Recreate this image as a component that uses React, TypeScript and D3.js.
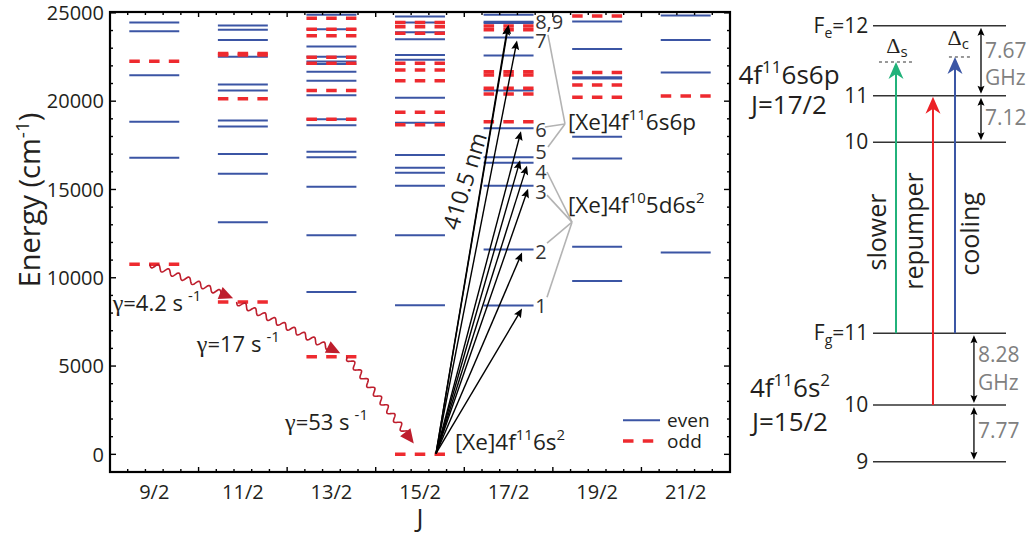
import React from 'react';
import * as d3 from 'd3';

// ---------- data ----------
const J_VALUES = [4.5, 5.5, 6.5, 7.5, 8.5, 9.5, 10.5];
const J_LABELS = ['9/2', '11/2', '13/2', '15/2', '17/2', '19/2', '21/2'];

const EVEN_9_2 = [24450, 23960, 21470, 18840, 16800];
const EVEN_11_2 = [24280, 24050, 23470, 22520, 20940, 20600, 18900, 18570, 17010, 15890, 13150];
const EVEN_13_2 = [24890, 24070, 23090, 22520, 22240, 22110, 21670, 21150, 20330, 18970, 18630, 17140, 16820, 15150, 12410, 9200];
const EVEN_15_2 = [24790, 24450, 23900, 23510, 22620, 22340, 20200, 18780, 16950, 16230, 15950, 15210, 12410, 8450];
const EVEN_17_2 = [24890, 24500, 24420, 23600, 22580, 20600, 18460, 16820, 16520, 15210, 11600, 8430];
const EVEN_19_2 = [24510, 22960, 21360, 21280, 17990, 16760, 11750, 9820];
const EVEN_21_2 = [24850, 23470, 21620, 11430];

const ODD_9_2 = [22260, 10760];
const ODD_11_2 = [22700, 22620, 20140, 8630];
const ODD_13_2 = [24700, 24070, 23710, 22490, 22150, 20600, 18970, 5520];
const ODD_15_2 = [24450, 24220, 23850, 22150, 21770, 21160, 19370, 18670, 0];
const ODD_17_2 = [24260, 24040, 21670, 21480, 20730, 20410, 18840];
const ODD_19_2 = [24830, 21620, 20920, 20220];
const ODD_21_2 = [20290];

const EVEN_LEVELS = [EVEN_9_2, EVEN_11_2, EVEN_13_2, EVEN_15_2, EVEN_17_2, EVEN_19_2, EVEN_21_2];
const ODD_LEVELS = [ODD_9_2, ODD_11_2, ODD_13_2, ODD_15_2, ODD_17_2, ODD_19_2, ODD_21_2];

const ENERGY_TICKS = [0, 5000, 10000, 15000, 20000, 25000];

// 410.5 nm transitions from the ground state (J=15/2) to J=17/2 levels
const GROUND_ORIGIN = [7.681, 50];
const TRANSITION_ENERGY = [8430, 11600, 15210, 16520, 16820, 18460, 23600, 24420, 24500];
const TRANSITION_TIP_J = [8.652, 8.652, 8.72, 8.708, 8.63, 8.64, 8.595, 8.49, 8.5];
const TRANSITION_LABELS = ['1', '2', '3', '4', '5', '6', '7', '8,9'];
const TRANSITION_LABEL_E = [8390, 11450, 14850, 15990, 17120, 18370, 23430, 24470];
const TRANSITION_LABEL_J = 8.8;

// grey brackets to configuration names
const SP_FROM = [[8.945, 23750], [8.91, 18540], [8.945, 17400]];
const SP_TO = [9.137, 18710];
const D_FROM = [[8.934, 15990], [8.934, 14680], [8.934, 11960], [8.934, 8900]];
const D_TO = [9.216, 13150];

// decays (wavy arrows)
const DECAY_START = [[4.45, 10770], [5.43, 8630], [6.68, 5520]];
const DECAY_END = [[5.39, 8840], [6.6, 5730], [7.43, 620]];
const GAMMA_VALUES = ['4.2', '17', '53'];
const GAMMA_POS = [[4.03, 8100], [4.98, 5820], [5.976, 1400]];

// hyperfine schematic (diagram units 0..100)
const EXC_F = ['12', '11', '10'];
const EXC_POS = [97.0, 81.8, 71.7];
const GND_F = ['11', '10', '9'];
const GND_POS = [30.15, 14.57, 2.24];
const EXC_GAPS = ['7.67', '7.12'];
const GND_GAPS = ['8.28', '7.77'];
const LASERS = ['slower', 'repumper', 'cooling'];
const LASER_X = [17.3, 45.1, 61.65];
const LASER_FROM = [30.15, 14.57, 30.15];
const LASER_TO = [89.13, 81.6, 90.22];
const LASER_COLORS = ['#21b27a', '#ec2227', '#3b56a5'];
const LASER_LABEL_X = [886, 923, 979];
const LASER_LABEL_Y = [232, 231, 234];

const FONT = "'Open Sans', 'Liberation Sans', sans-serif";
const GREEK = "'Liberation Serif', 'DejaVu Serif', serif";
const BLUE = '#3b55a4';
const RED = '#ee2a2f';
const DRED = '#be1e2d';
const INK = '#231f20';

function headPath(x1: number, y1: number, x2: number, y2: number, len: number, hw: number, notch = 0) {
  const dx = x2 - x1, dy = y2 - y1;
  const L = Math.hypot(dx, dy);
  const ux = dx / L, uy = dy / L;
  const nx = -uy, ny = ux;
  const bx = x2 - ux * len, by = y2 - uy * len;
  const mx = x2 - ux * (len - notch), my = y2 - uy * (len - notch);
  return `M${x2},${y2}L${bx + nx * hw},${by + ny * hw}L${mx},${my}L${bx - nx * hw},${by - ny * hw}Z`;
}

function shorten(x1: number, y1: number, x2: number, y2: number, d: number): [number, number] {
  const L = Math.hypot(x2 - x1, y2 - y1);
  return [x2 - ((x2 - x1) / L) * d, y2 - ((y2 - y1) / L) * d];
}

function wavy(x0: number, y0: number, x1: number, y1: number, wl: number, amp: number) {
  const dx = x1 - x0, dy = y1 - y0;
  const L = Math.hypot(dx, dy);
  const ux = dx / L, uy = dy / L, nx = -uy, ny = ux;
  const pts: [number, number][] = [];
  for (let t = 0; t <= L; t += 0.5) {
    const a = amp * Math.sin((2 * Math.PI * t) / wl);
    pts.push([x0 + ux * t + nx * a, y0 + uy * t + ny * a]);
  }
  return d3.line()(pts) as string;
}

export default function App() {
  const W = 1029, H = 537;
  const x = d3.scaleLinear().domain([4, 11]).range([110, 730]);
  const y = d3.scaleLinear().domain([-1000, 25050]).range([472, 12]);
  const hw = 0.282;
  const xs = d3.scaleLinear().domain([0, 100]).range([873, 1006]);
  const ys = d3.scaleLinear().domain([0, 100]).range([472, 12]);

  const xTicks = d3.range(0, 36).map((i) => 4 + i * 0.2);
  const yTicks = d3.range(-1000, 25001, 1000);

  const [ox, oy] = [x(GROUND_ORIGIN[0]), y(GROUND_ORIGIN[1])];

  return (
    <svg width={W} height={H} style={{ position: 'absolute', left: 0, top: 0, background: '#fff' }} fontFamily={FONT}>
      {/* level lines */}
      {EVEN_LEVELS.map((lv, i) =>
        lv.map((e, k) => (
          <line key={`e${i}-${k}`} x1={x(J_VALUES[i] - hw)} x2={x(J_VALUES[i] + hw)} y1={y(e)} y2={y(e)} stroke={BLUE} strokeWidth={2} />
        ))
      )}
      {ODD_LEVELS.map((lv, i) =>
        lv.map((e, k) => (
          <line key={`o${i}-${k}`} x1={x(J_VALUES[i] - hw)} x2={x(J_VALUES[i] + hw)} y1={y(e)} y2={y(e)} stroke={RED} strokeWidth={3.5} strokeDasharray="10.5,9.25" />
        ))
      )}

      {/* frame */}
      <rect x={x(4)} y={y(25050)} width={x(11) - x(4)} height={y(-1000) - y(25050)} fill="none" stroke="#000" strokeWidth={2.2} />
      {xTicks.map((t, i) => {
        const major = Math.abs(t - Math.round(t)) < 1e-6;
        const len = major ? 5 : 3;
        if (t <= 4.001) return null;
        return (
          <g key={`xt${i}`}>
            <line x1={x(t)} x2={x(t)} y1={y(-1000)} y2={y(-1000) - len} stroke="#000" strokeWidth={1.4} />
            <line x1={x(t)} x2={x(t)} y1={y(25050)} y2={y(25050) + len} stroke="#000" strokeWidth={1.4} />
          </g>
        );
      })}
      {yTicks.map((t, i) => {
        const major = t % 5000 === 0;
        const len = major ? 6 : 3;
        return (
          <g key={`yt${i}`}>
            <line x1={x(4)} x2={x(4) + len} y1={y(t)} y2={y(t)} stroke="#000" strokeWidth={1.4} />
            <line x1={x(11)} x2={x(11) - len} y1={y(t)} y2={y(t)} stroke="#000" strokeWidth={1.4} />
          </g>
        );
      })}
      {ENERGY_TICKS.map((t) => (
        <text key={`yl${t}`} x={x(4) - 6} y={y(t)} dy="0.36em" textAnchor="end" fontSize={20} fill={INK}>
          {t}
        </text>
      ))}
      {J_LABELS.map((l, i) => (
        <text key={`xl${i}`} x={x(J_VALUES[i])} y={499} textAnchor="middle" fontSize={20} fill={INK}>
          {l}
        </text>
      ))}
      <text x={(x(4) + x(11)) / 2} y={527} textAnchor="middle" fontSize={26} fill={INK}>J</text>
      <text transform={`translate(40,200) rotate(-90)`} textAnchor="middle" fontSize={29} fill={INK}>
        Energy (cm<tspan dy={-11} fontSize={19}>-1</tspan><tspan dy={11}>)</tspan>
      </text>

      {/* decays */}
      {DECAY_START.map((s, i) => {
        const x0 = x(s[0]), y0 = y(s[1]);
        const x1 = x(DECAY_END[i][0]), y1 = y(DECAY_END[i][1]);
        const [bx, by] = shorten(x0, y0, x1, y1, 10);
        return (
          <g key={`d${i}`}>
            <path d={wavy(x0, y0, bx, by, 11, 2.8)} fill="none" stroke={DRED} strokeWidth={1.6} />
            <path d={headPath(x0, y0, x1, y1, 14, 6.5)} fill={DRED} />
          </g>
        );
      })}
      {GAMMA_VALUES.map((g, i) => (
        <text key={`g${i}`} x={x(GAMMA_POS[i][0])} y={y(GAMMA_POS[i][1])} fontSize={22} fill={INK}>
          <tspan fontFamily={GREEK} fontSize={24}>γ</tspan>={g} s<tspan dx={5} dy={-10} fontSize={15}>-1</tspan>
        </text>
      ))}

      {/* transitions */}
      {TRANSITION_ENERGY.map((e, i) => {
        const tx = x(TRANSITION_TIP_J[i]);
        const ty = y(e) + 3;
        const [bx, by] = shorten(ox, oy, tx, ty, 5);
        return (
          <g key={`t${i}`}>
            <line x1={ox} y1={oy} x2={bx} y2={by} stroke="#000" strokeWidth={1.4} />
            <path d={headPath(ox, oy, tx, ty, 9, 4, 1.5)} fill="#000" />
          </g>
        );
      })}
      {TRANSITION_LABELS.map((l, i) => (
        <text key={`tl${i}`} x={x(TRANSITION_LABEL_J)} y={y(TRANSITION_LABEL_E[i])} dy="0.36em" fontSize={20} fill="#333">
          {l}
        </text>
      ))}
      {SP_FROM.map((p, i) => (
        <line key={`sp${i}`} x1={x(p[0])} y1={y(p[1])} x2={x(SP_TO[0])} y2={y(SP_TO[1])} stroke="#b3b3b3" strokeWidth={1.6} />
      ))}
      {D_FROM.map((p, i) => (
        <line key={`dp${i}`} x1={x(p[0])} y1={y(p[1])} x2={x(D_TO[0])} y2={y(D_TO[1])} stroke="#b3b3b3" strokeWidth={1.6} />
      ))}
      <text x={x(9.17)} y={y(18370)} fontSize={22.5} fill={INK}>
        [Xe]4f<tspan dy={-10} fontSize={15}>11</tspan><tspan dy={10}>6s6p</tspan>
      </text>
      <text x={x(9.17)} y={y(13660)} fontSize={22.5} fill={INK}>
        [Xe]4f<tspan dy={-10} fontSize={15}>10</tspan><tspan dy={10}>5d6s</tspan><tspan dy={-10} fontSize={15}>2</tspan>
      </text>
      <text x={x(7.895)} y={y(230)} fontSize={22.5} fill={INK}>
        [Xe]4f<tspan dy={-10} fontSize={15}>11</tspan><tspan dy={10}>6s</tspan><tspan dy={-10} fontSize={15}>2</tspan>
      </text>
      <text transform={`translate(${x(8.008)},${y(15480)}) rotate(-73)`} textAnchor="middle" dy="0.35em" fontSize={23} fill={INK}>
        410.5 nm
      </text>

      {/* legend */}
      <line x1={x(9.792)} x2={x(10.21)} y1={y(1930)} y2={y(1930)} stroke={BLUE} strokeWidth={2} />
      <text x={x(10.29)} y={y(1930)} dy="0.35em" fontSize={19} fill={INK}>even</text>
      <line x1={x(9.792)} x2={x(10.21)} y1={y(760)} y2={y(760)} stroke={RED} strokeWidth={3.5} strokeDasharray="10.5,9.25" />
      <text x={x(10.29)} y={y(760)} dy="0.35em" fontSize={19} fill={INK}>odd</text>

      {/* hyperfine schematic */}
      {EXC_POS.map((p, i) => (
        <g key={`ex${i}`}>
          <line x1={xs(0)} x2={xs(100)} y1={ys(p)} y2={ys(p)} stroke="#333" strokeWidth={1.5} />
          <text x={xs(-3.5)} y={ys(p) + 7} textAnchor="end" fontSize={21} fill={INK}>
            {i === 0 ? (
              <>
                F<tspan dy={5} fontSize={14}>e</tspan><tspan dy={-5}>={EXC_F[i]}</tspan>
              </>
            ) : (
              EXC_F[i]
            )}
          </text>
        </g>
      ))}
      {GND_POS.map((p, i) => (
        <g key={`gn${i}`}>
          <line x1={xs(0)} x2={xs(100)} y1={ys(p)} y2={ys(p)} stroke="#333" strokeWidth={1.5} />
          <text x={xs(-3.5)} y={ys(p) + 7} textAnchor="end" fontSize={21} fill={INK}>
            {i === 0 ? (
              <>
                F<tspan dy={5} fontSize={14}>g</tspan><tspan dy={-5}>={GND_F[i]}</tspan>
              </>
            ) : (
              GND_F[i]
            )}
          </text>
        </g>
      ))}
      {/* splittings */}
      {EXC_GAPS.map((g, i) => {
        const xa = xs(81.2);
        const ya = ys(EXC_POS[i]) + 2, yb = ys(EXC_POS[i + 1]) - 2;
        return (
          <g key={`eg${i}`}>
            <line x1={xa} x2={xa} y1={ya + 4} y2={yb - 4} stroke="#000" strokeWidth={1.3} />
            <path d={headPath(xa, yb, xa, ya, 8, 3.5, 1.5)} fill="#000" />
            <path d={headPath(xa, ya, xa, yb, 8, 3.5, 1.5)} fill="#000" />
          </g>
        );
      })}
      {GND_GAPS.map((g, i) => {
        const xa = xs(75.9);
        const ya = ys(GND_POS[i]) + 2, yb = ys(GND_POS[i + 1]) - 2;
        return (
          <g key={`gg${i}`}>
            <line x1={xa} x2={xa} y1={ya + 4} y2={yb - 4} stroke="#000" strokeWidth={1.3} />
            <path d={headPath(xa, yb, xa, ya, 8, 3.5, 1.5)} fill="#000" />
            <path d={headPath(xa, ya, xa, yb, 8, 3.5, 1.5)} fill="#000" />
          </g>
        );
      })}
      <text x={xs(84.2)} y={58} fontSize={21} fill="#808080">{EXC_GAPS[0]}</text>
      <text x={xs(84.2)} y={85} fontSize={21} fill="#808080">GHz</text>
      <text x={xs(84.2)} y={125} fontSize={21} fill="#808080">{EXC_GAPS[1]}</text>
      <text x={xs(79)} y={362} fontSize={21} fill="#808080">{GND_GAPS[0]}</text>
      <text x={xs(79)} y={390} fontSize={21} fill="#808080">GHz</text>
      <text x={xs(79)} y={438} fontSize={21} fill="#808080">{GND_GAPS[1]}</text>

      {/* detuning marks */}
      <line x1={xs(4.5)} x2={xs(30.1)} y1={ys(89.13)} y2={ys(89.13)} stroke="#333" strokeWidth={1} strokeDasharray="3,3" />
      <line x1={xs(57.1)} x2={xs(74.4)} y1={ys(90.22)} y2={ys(90.22)} stroke="#333" strokeWidth={1} strokeDasharray="3,3" />
      <text x={xs(10)} y={53} fontSize={22} fill={INK}><tspan fontFamily={GREEK}>Δ</tspan><tspan dy={4} fontSize={15}>s</tspan></text>
      <text x={xs(56)} y={45} fontSize={22} fill={INK}><tspan fontFamily={GREEK}>Δ</tspan><tspan dy={4} fontSize={15}>c</tspan></text>

      {/* lasers */}
      {LASERS.map((l, i) => {
        const lx = xs(LASER_X[i]);
        const y0 = ys(LASER_FROM[i]), y1 = ys(LASER_TO[i]);
        return (
          <g key={`las${i}`}>
            <line x1={lx} x2={lx} y1={y0} y2={y1 + 10} stroke={LASER_COLORS[i]} strokeWidth={2} />
            <path d={headPath(lx, y0, lx, y1, 17, 7.5, 5)} fill={LASER_COLORS[i]} />
            <text transform={`translate(${LASER_LABEL_X[i]},${LASER_LABEL_Y[i]}) rotate(-90)`} textAnchor="middle" fontSize={25} fill={INK}>
              {l}
            </text>
          </g>
        );
      })}

      {/* state labels */}
      <text x={789} y={84} textAnchor="middle" fontSize={26} fill={INK}>
        4f<tspan dy={-11} fontSize={17}>11</tspan><tspan dy={11}>6s6p</tspan>
      </text>
      <text x={789} y={114} textAnchor="middle" fontSize={26} fill={INK}>J=17/2</text>
      <text x={790} y={397} textAnchor="middle" fontSize={26} fill={INK}>
        4f<tspan dy={-11} fontSize={17}>11</tspan><tspan dy={11}>6s</tspan><tspan dy={-11} fontSize={17}>2</tspan>
      </text>
      <text x={790} y={431} textAnchor="middle" fontSize={26} fill={INK}>J=15/2</text>
    </svg>
  );
}
